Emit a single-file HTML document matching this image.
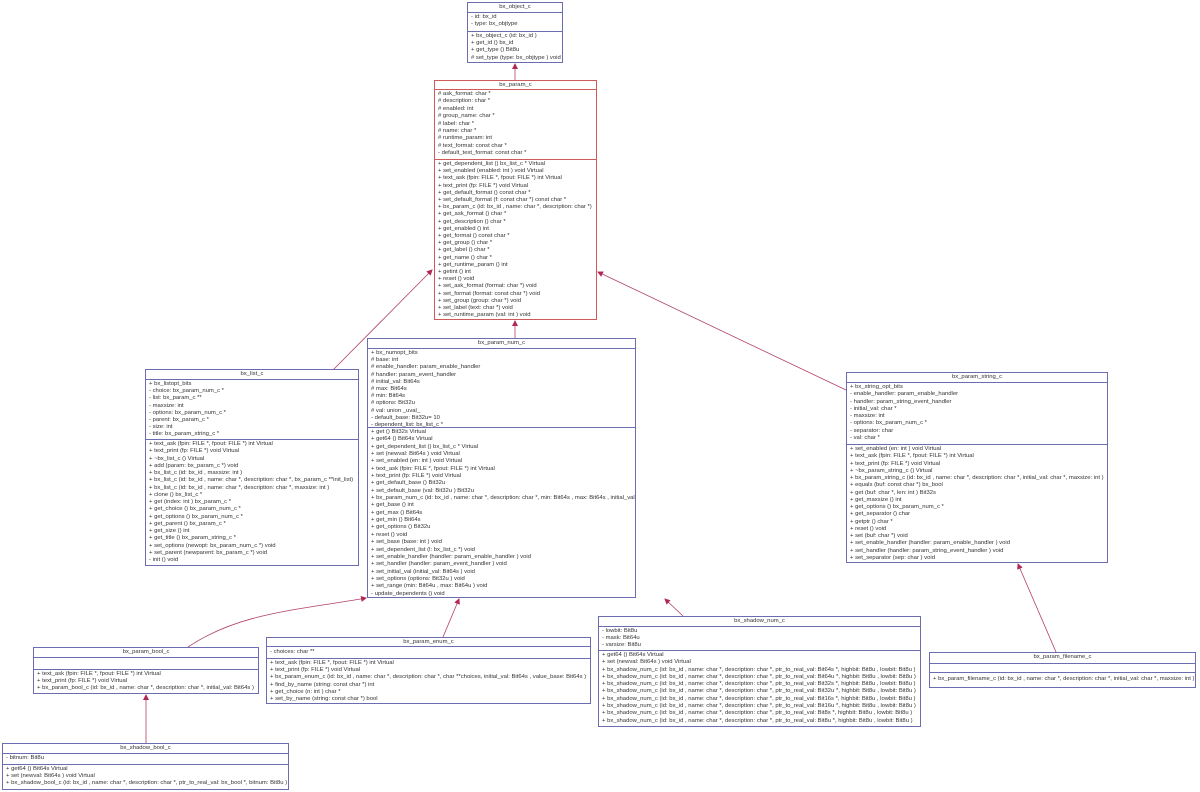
<!DOCTYPE html>
<html><head><meta charset="utf-8"><style>
body{margin:0;width:1200px;height:792px;background:#fff;position:relative;overflow:hidden;font-family:"Liberation Sans",sans-serif;color:#333}
.b{position:absolute;border:1px solid #6c6cb0;background:#fff;box-sizing:border-box;font-size:5.9px;line-height:7.2px;white-space:nowrap;overflow:hidden}
.b.r{border-color:#d05a5a}
.h{text-align:center;border-bottom:1px solid #6c6cb0;box-sizing:border-box;line-height:9px}
.r .h,.r .f{border-color:#d05a5a}
.f{border-bottom:1px solid #6c6cb0;box-sizing:border-box;padding:1px 3px;overflow:hidden}
.m{padding:1px 3px}
svg{position:absolute;left:0;top:0}
</style></head><body>
<svg width="1200" height="792">
<defs><marker id="a" markerWidth="6" markerHeight="6" refX="5" refY="3" orient="auto" markerUnits="userSpaceOnUse"><path d="M0,0 L6,3 L0,6 z" fill="#b02858"/></marker></defs>
<g stroke="#b04068" stroke-width="0.8" fill="none" marker-end="url(#a)">
<line x1="515" y1="80" x2="515" y2="64"/>
<line x1="333" y1="370" x2="432" y2="270"/>
<line x1="515" y1="338" x2="515" y2="321"/>
<line x1="846" y1="390" x2="598" y2="272"/>
<path d="M188,647 C240,612 300,610 366,598"/>
<line x1="443" y1="637" x2="459" y2="599"/>
<line x1="683" y1="616" x2="665" y2="599"/>
<line x1="1056" y1="652" x2="1018" y2="564"/>
<line x1="146" y1="743" x2="146" y2="695"/>
</g></svg>

<div class="b" style="left:467px;top:2px;width:96px;height:61px"><div class="h" style="height:10px">bx_object_c</div><div class="f" style="height:19px">- id: bx_id<br>- type: bx_objtype</div><div class="m">+ bx_object_c (id: bx_id )<br>+ get_id () bx_id<br>+ get_type () Bit8u<br># set_type (type: bx_objtype ) void</div></div>

<div class="b r" style="left:434px;top:80px;width:163px;height:240px"><div class="h" style="height:9px">bx_param_c</div><div class="f" style="height:70px;line-height:7.4px"># ask_format: char *<br># description: char *<br># enabled: int<br># group_name: char *<br># label: char *<br># name: char *<br># runtime_param: int<br># text_format: const char *<br>- default_text_format: const char *</div><div class="m" style="line-height:7.2px">+ get_dependent_list () bx_list_c * Virtual<br>+ set_enabled (enabled: int ) void Virtual<br>+ text_ask (fpin: FILE *, fpout: FILE *) int Virtual<br>+ text_print (fp: FILE *) void Virtual<br>+ get_default_format () const char *<br>+ set_default_format (f: const char *) const char *<br>+ bx_param_c (id: bx_id , name: char *, description: char *)<br>+ get_ask_format () char *<br>+ get_description () char *<br>+ get_enabled () int<br>+ get_format () const char *<br>+ get_group () char *<br>+ get_label () char *<br>+ get_name () char *<br>+ get_runtime_param () int<br>+ getint () int<br>+ reset () void<br>+ set_ask_format (format: char *) void<br>+ set_format (format: const char *) void<br>+ set_group (group: char *) void<br>+ set_label (text: char *) void<br>+ set_runtime_param (val: int ) void</div></div>

<div class="b" style="left:145px;top:369px;width:214px;height:197px"><div class="h" style="height:10px">bx_list_c</div><div class="f" style="height:60px">+ bx_listopt_bits<br>- choice: bx_param_num_c *<br>- list: bx_param_c **<br>- maxsize: int<br>- options: bx_param_num_c *<br>- parent: bx_param_c *<br>- size: int<br>- title: bx_param_string_c *</div><div class="m" style="line-height:7.25px">+ text_ask (fpin: FILE *, fpout: FILE *) int Virtual<br>+ text_print (fp: FILE *) void Virtual<br>+ ~bx_list_c () Virtual<br>+ add (param: bx_param_c *) void<br>+ bx_list_c (id: bx_id , maxsize: int )<br>+ bx_list_c (id: bx_id , name: char *, description: char *, bx_param_c **init_list)<br>+ bx_list_c (id: bx_id , name: char *, description: char *, maxsize: int )<br>+ clone () bx_list_c *<br>+ get (index: int ) bx_param_c *<br>+ get_choice () bx_param_num_c *<br>+ get_options () bx_param_num_c *<br>+ get_parent () bx_param_c *<br>+ get_size () int<br>+ get_title () bx_param_string_c *<br>+ set_options (newopt: bx_param_num_c *) void<br>+ set_parent (newparent: bx_param_c *) void<br>- init () void</div></div>

<div class="b" style="left:367px;top:338px;width:269px;height:260px"><div class="h" style="height:10px">bx_param_num_c</div><div class="f" style="height:79px">+ bx_numopt_bits<br># base: int<br># enable_handler: param_enable_handler<br># handler: param_event_handler<br># initial_val: Bit64s<br># max: Bit64s<br># min: Bit64s<br># options: Bit32u<br># val: union _uval_<br>- default_base: Bit32u= 10<br>- dependent_list: bx_list_c *</div><div class="m" style="line-height:7.35px">+ get () Bit32s Virtual<br>+ get64 () Bit64s Virtual<br>+ get_dependent_list () bx_list_c * Virtual<br>+ set (newval: Bit64s ) void Virtual<br>+ set_enabled (en: int ) void Virtual<br>+ text_ask (fpin: FILE *, fpout: FILE *) int Virtual<br>+ text_print (fp: FILE *) void Virtual<br>+ get_default_base () Bit32u<br>+ set_default_base (val: Bit32u ) Bit32u<br>+ bx_param_num_c (id: bx_id , name: char *, description: char *, min: Bit64s , max: Bit64s , initial_val: Bit64s )<br>+ get_base () int<br>+ get_max () Bit64s<br>+ get_min () Bit64s<br>+ get_options () Bit32u<br>+ reset () void<br>+ set_base (base: int ) void<br>+ set_dependent_list (l: bx_list_c *) void<br>+ set_enable_handler (handler: param_enable_handler ) void<br>+ set_handler (handler: param_event_handler ) void<br>+ set_initial_val (initial_val: Bit64s ) void<br>+ set_options (options: Bit32u ) void<br>+ set_range (min: Bit64u , max: Bit64u ) void<br>- update_dependents () void</div></div>

<div class="b" style="left:846px;top:372px;width:262px;height:191px"><div class="h" style="height:10px">bx_param_string_c</div><div class="f" style="height:62px;line-height:7.3px">+ bx_string_opt_bits<br>- enable_handler: param_enable_handler<br>- handler: param_string_event_handler<br>- initial_val: char *<br>- maxsize: int<br>- options: bx_param_num_c *<br>- separator: char<br>- val: char *</div><div class="m" style="line-height:7.25px">+ set_enabled (en: int ) void Virtual<br>+ text_ask (fpin: FILE *, fpout: FILE *) int Virtual<br>+ text_print (fp: FILE *) void Virtual<br>+ ~bx_param_string_c () Virtual<br>+ bx_param_string_c (id: bx_id , name: char *, description: char *, initial_val: char *, maxsize: int )<br>+ equals (buf: const char *) bx_bool<br>+ get (buf: char *, len: int ) Bit32s<br>+ get_maxsize () int<br>+ get_options () bx_param_num_c *<br>+ get_separator () char<br>+ getptr () char *<br>+ reset () void<br>+ set (buf: char *) void<br>+ set_enable_handler (handler: param_enable_handler ) void<br>+ set_handler (handler: param_string_event_handler ) void<br>+ set_separator (sep: char ) void</div></div>

<div class="b" style="left:598px;top:616px;width:323px;height:111px"><div class="h" style="height:10px">bx_shadow_num_c</div><div class="f" style="height:24px">- lowbit: Bit8u<br>- mask: Bit64u<br>- varsize: Bit8u</div><div class="m" style="line-height:7.3px">+ get64 () Bit64s Virtual<br>+ set (newval: Bit64s ) void Virtual<br>+ bx_shadow_num_c (id: bx_id , name: char *, description: char *, ptr_to_real_val: Bit64s *, highbit: Bit8u , lowbit: Bit8u )<br>+ bx_shadow_num_c (id: bx_id , name: char *, description: char *, ptr_to_real_val: Bit64u *, highbit: Bit8u , lowbit: Bit8u )<br>+ bx_shadow_num_c (id: bx_id , name: char *, description: char *, ptr_to_real_val: Bit32s *, highbit: Bit8u , lowbit: Bit8u )<br>+ bx_shadow_num_c (id: bx_id , name: char *, description: char *, ptr_to_real_val: Bit32u *, highbit: Bit8u , lowbit: Bit8u )<br>+ bx_shadow_num_c (id: bx_id , name: char *, description: char *, ptr_to_real_val: Bit16s *, highbit: Bit8u , lowbit: Bit8u )<br>+ bx_shadow_num_c (id: bx_id , name: char *, description: char *, ptr_to_real_val: Bit16u *, highbit: Bit8u , lowbit: Bit8u )<br>+ bx_shadow_num_c (id: bx_id , name: char *, description: char *, ptr_to_real_val: Bit8s *, highbit: Bit8u , lowbit: Bit8u )<br>+ bx_shadow_num_c (id: bx_id , name: char *, description: char *, ptr_to_real_val: Bit8u *, highbit: Bit8u , lowbit: Bit8u )</div></div>

<div class="b" style="left:929px;top:652px;width:267px;height:36px"><div class="h" style="height:11px">bx_param_filename_c</div><div class="f" style="height:9px"></div><div class="m" style="padding-top:3px">+ bx_param_filename_c (id: bx_id , name: char *, description: char *, initial_val: char *, maxsize: int )</div></div>

<div class="b" style="left:33px;top:647px;width:226px;height:47px"><div class="h" style="height:10px">bx_param_bool_c</div><div class="f" style="height:12px"></div><div class="m">+ text_ask (fpin: FILE *, fpout: FILE *) int Virtual<br>+ text_print (fp: FILE *) void Virtual<br>+ bx_param_bool_c (id: bx_id , name: char *, description: char *, initial_val: Bit64s )</div></div>

<div class="b" style="left:266px;top:637px;width:325px;height:67px"><div class="h" style="height:9px">bx_param_enum_c</div><div class="f" style="height:12px;padding-top:2px">- choices: char **</div><div class="m">+ text_ask (fpin: FILE *, fpout: FILE *) int Virtual<br>+ text_print (fp: FILE *) void Virtual<br>+ bx_param_enum_c (id: bx_id , name: char *, description: char *, char **choices, initial_val: Bit64s , value_base: Bit64s )<br>+ find_by_name (string: const char *) int<br>+ get_choice (n: int ) char *<br>+ set_by_name (string: const char *) bool</div></div>

<div class="b" style="left:2px;top:743px;width:287px;height:47px"><div class="h" style="height:10px">bx_shadow_bool_c</div><div class="f" style="height:11px">- bitnum: Bit8u</div><div class="m">+ get64 () Bit64s Virtual<br>+ set (newval: Bit64s ) void Virtual<br>+ bx_shadow_bool_c (id: bx_id , name: char *, description: char *, ptr_to_real_val: bx_bool *, bitnum: Bit8u )</div></div>
</body></html>
